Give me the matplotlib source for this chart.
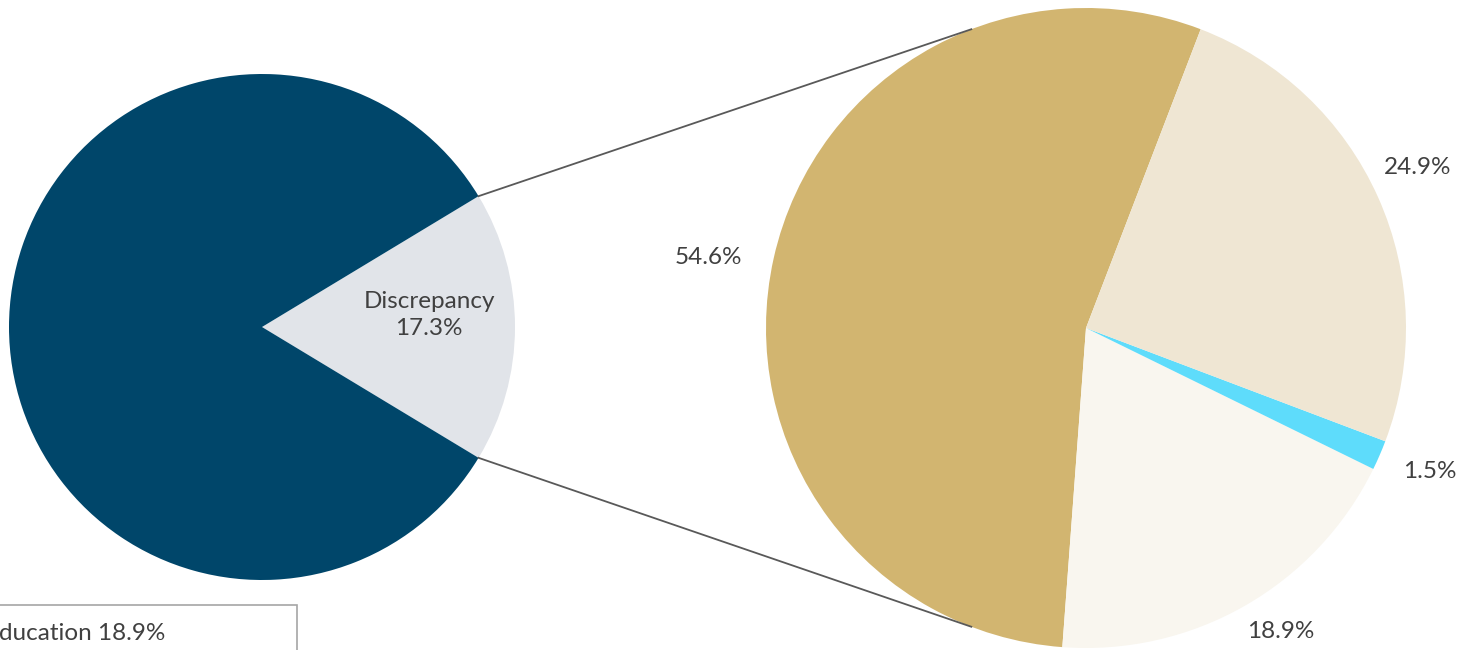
import numpy as np
import matplotlib
matplotlib.use("Agg")
import matplotlib.pyplot as plt
from matplotlib.patches import Rectangle

plt.rcParams['font.family'] = ['Lato', 'DejaVu Sans']

# main pie
main_labels = ['Discrepancy', 'Other']
main_values = [17.3, 82.7]
main_colors = ['#E1E4E9', '#00466A']

# breakdown of the discrepancy slice (counter-clockwise from the top)
sub_labels = ['A', 'Education', 'B', 'C']
sub_values = [54.6, 18.9, 1.5, 24.9]
sub_colors = ['#D2B570', '#F9F6EF', '#5EDCFB', '#EFE6D3']

W, H = 1462, 650
fig = plt.figure(figsize=(W / 100, H / 100), dpi=100)
ax = fig.add_axes([0, 0, 1, 1])

c1, r1 = (262, H - 327), 253
c2, r2 = (1086, H - 328), 320

start1 = -main_values[0] * 3.6 / 2
ax.pie(main_values, colors=main_colors, center=c1, radius=r1,
       startangle=start1, counterclock=True, wedgeprops=dict(linewidth=0))
ax.pie(sub_values, colors=sub_colors, center=c2, radius=r2,
       startangle=69, counterclock=True, wedgeprops=dict(linewidth=0))

txt = '#404040'
fs = 17.5
ax.text(c1[0] + 167, c1[1] + 12, 'Discrepancy\n' + f'{main_values[0]}%', ha='center', va='center',
        fontsize=fs, color=txt, linespacing=1.3)

# labels of the breakdown pie
label_pos = [(708, 258), (1281, 631), (1430, 472), (1418, 167)]
for v, (x, y) in zip(sub_values, label_pos):
    ax.text(x, H - y, f'{v}%', ha='center', va='center', fontsize=fs, color=txt)

# connector lines
a_top = np.deg2rad(-start1)
a_bot = np.deg2rad(start1)
for a1, a2 in [(a_top, np.deg2rad(111)), (a_bot, np.deg2rad(249))]:
    x1, y1 = c1[0] + r1 * np.cos(a1), c1[1] + r1 * np.sin(a1)
    x2, y2 = c2[0] + r2 * np.cos(a2), c2[1] + r2 * np.sin(a2)
    ax.plot([x1, x2], [y1, y2], color='#595959', linewidth=1.3)

# partly hidden legend box
ax.add_patch(Rectangle((-40, -20), 337, H - 605 + 20, facecolor='white',
                       edgecolor='#A6A6A6', linewidth=1.2, clip_on=True))
ax.text(-15, H - 634, f'Education {sub_values[1]}%', ha='left', va='center',
        fontsize=fs, color=txt)

ax.set_xlim(0, W)
ax.set_ylim(0, H)
ax.set_aspect('equal')
ax.axis('off')

fig.savefig('out.png', dpi=100)
